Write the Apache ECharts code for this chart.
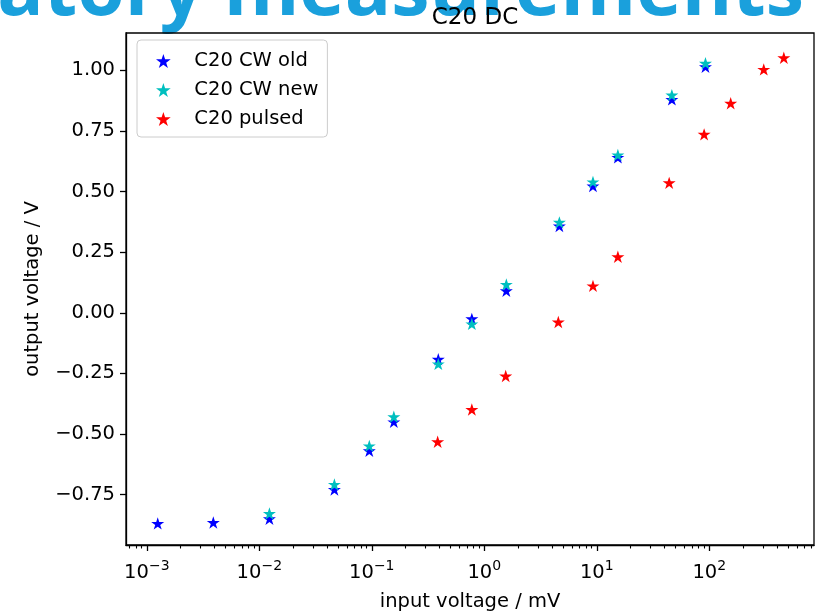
<!DOCTYPE html>
<html><head><meta charset="utf-8">
<script src="https://cdn.jsdelivr.net/npm/echarts@6/dist/echarts.min.js"></script>
<style>html,body{margin:0;padding:0;background:#fff}#c{width:826px;height:614px}</style>
</head><body><div id="c"></div>
<script>
// ---- data (input voltage in mV, output voltage in V) ----
const cwOldX = [0.00125, 0.0039, 0.0123, 0.0465, 0.095, 0.157, 0.39, 0.775, 1.57, 4.65, 9.25, 15.4, 46.5, 92.5];
const cwOldY = [-0.869, -0.865, -0.850, -0.729, -0.569, -0.450, -0.192, -0.025, 0.091, 0.358, 0.523, 0.641, 0.880, 1.015];
const cwNewX = [0.0123, 0.0465, 0.095, 0.157, 0.39, 0.775, 1.57, 4.65, 9.25, 15.4, 46.5, 92.5];
const cwNewY = [-0.828, -0.708, -0.549, -0.429, -0.211, -0.046, 0.117, 0.373, 0.540, 0.651, 0.898, 1.029];
const pulsedX = [0.385, 0.775, 1.55, 4.55, 9.25, 15.4, 44, 90, 155, 305, 460];
const pulsedY = [-0.532, -0.399, -0.261, -0.038, 0.111, 0.231, 0.536, 0.736, 0.864, 1.004, 1.052];

const seriesNames = ['C20 CW old', 'C20 CW new', 'C20 pulsed'];
const yTicks = [-0.75, -0.5, -0.25, 0, 0.25, 0.5, 0.75, 1.0];
const xTicks = [1e-3, 1e-2, 1e-1, 1, 10, 100];
const xTickExp = ['−3', '−2', '−1', '0', '1', '2'];
const xMinorTicks = [];
for (let e = -4; e <= 2; e++) for (let k = 2; k <= 9; k++) xMinorTicks.push(+(k * Math.pow(10, e)).toPrecision(3));

const xMin = 6.53e-4, xMax = 853, yMin = -0.958, yMax = 1.154;

// matplotlib-like five point star symbol
function starPath() {
  let s = '';
  for (let i = 0; i < 10; i++) {
    const r = i % 2 ? 38.2 : 100;
    const a = -Math.PI / 2 + i * Math.PI / 5;
    s += (i ? 'L' : 'M') + (r * Math.cos(a)).toFixed(2) + ' ' + (r * Math.sin(a)).toFixed(2);
  }
  return 'path://' + s + 'Z';
}
const STAR = starPath();
const FONT = 'DejaVu Sans';
const FS = 19.5;

const chart = echarts.init(document.getElementById('c'), null, {renderer: 'canvas'});
const pair = (xs, ys) => xs.map((x, i) => [x, ys[i]]);
const mkSeries = (name, xs, ys, color, z) => ({
  type: 'scatter', name, data: pair(xs, ys), symbol: STAR, symbolSize: 13,
  symbolKeepAspect: true, itemStyle: {color, opacity: 1}, z, xAxisIndex: 0, yAxisIndex: 0,
  emphasis: {disabled: true}
});

chart.setOption({
  animation: false,
  backgroundColor: '#ffffff',
  textStyle: {fontFamily: FONT},
  title: {
    text: 'C20 DC', left: 470, top: 2, textAlign: 'center',
    textStyle: {fontFamily: FONT, fontSize: 23, fontWeight: 'normal', color: '#000'}
  },
  graphic: [{
    type: 'text', z: -1, x: 804, y: -7,
    style: {
      text: 'Laboratory measurements', fill: '#1aa0dc',
      font: 'bold 77px "Open Sans"', textAlign: 'right', textVerticalAlign: 'middle'
    }
  }],
  legend: {
    orient: 'vertical', left: 137, top: 40,
    padding: [11, 9, 8, 19], itemWidth: 20, itemHeight: 14, itemGap: 9,
    backgroundColor: 'rgba(255,255,255,0.8)', borderColor: '#cccccc', borderWidth: 1, borderRadius: 4,
    textStyle: {fontFamily: FONT, fontSize: FS, color: '#000', lineHeight: 20, padding: [0, 0, 0, 16]},
    data: seriesNames, selectedMode: false
  },
  grid: {left: 126, right: 12, top: 33, bottom: 69, show: true, borderColor: '#000', borderWidth: 1.3,
    containLabel: false, outerBoundsMode: 'none'},
  xAxis: [{
    type: 'log', logBase: 10, min: xMin, max: xMax, position: 'bottom',
    name: 'input voltage / mV', nameLocation: 'middle', nameGap: 47,
    nameTextStyle: {fontFamily: FONT, fontSize: FS, color: '#000'},
    axisLine: {show: true, onZero: false, lineStyle: {color: '#000', width: 1.3}},
    axisTick: {show: true, inside: false, length: 6, lineStyle: {color: '#000', width: 1.3}, customValues: xTicks},
    axisLabel: {
      show: true, margin: 14, color: '#000', customValues: xTicks,
      formatter: v => {
        const i = xTicks.findIndex(t => Math.abs(Math.log10(t) - Math.log10(v)) < 1e-6);
        return '{b|10}{s|' + (i >= 0 ? xTickExp[i] : '') + '}';
      },
      rich: {
        b: {fontFamily: FONT, fontSize: FS, color: '#000', lineHeight: 24, verticalAlign: 'bottom'},
        s: {fontFamily: FONT, fontSize: 14, color: '#000', lineHeight: 14, verticalAlign: 'top'}
      }
    },
    splitLine: {show: false}, minorTick: {show: false}
  }, {
    type: 'log', logBase: 10, min: xMin, max: xMax, position: 'bottom', gridIndex: 0,
    axisLine: {show: false, onZero: false},
    axisTick: {show: true, inside: false, length: 3.5, lineStyle: {color: '#000', width: 1.1}, customValues: xMinorTicks},
    axisLabel: {show: false},
    splitLine: {show: false}
  }],
  yAxis: {
    type: 'value', min: yMin, max: yMax,
    name: 'output voltage / V', nameLocation: 'middle', nameGap: 83, nameRotate: 90,
    nameTextStyle: {fontFamily: FONT, fontSize: FS, color: '#000'},
    axisLine: {show: true, onZero: false, lineStyle: {color: '#000', width: 1.3}},
    axisTick: {show: true, inside: false, length: 6, lineStyle: {color: '#000', width: 1.3}, customValues: yTicks},
    axisLabel: {
      show: true, margin: 11, color: '#000', fontFamily: FONT, fontSize: FS, customValues: yTicks,
      formatter: v => (v < 0 ? '−' : '') + Math.abs(v).toFixed(2)
    },
    splitLine: {show: false}
  },
  series: [
    mkSeries(seriesNames[0], cwOldX, cwOldY, '#0000ff', 2),
    mkSeries(seriesNames[1], cwNewX, cwNewY, '#00bfbf', 3),
    mkSeries(seriesNames[2], pulsedX, pulsedY, '#ff0000', 4)
  ]
});
</script></body></html>
